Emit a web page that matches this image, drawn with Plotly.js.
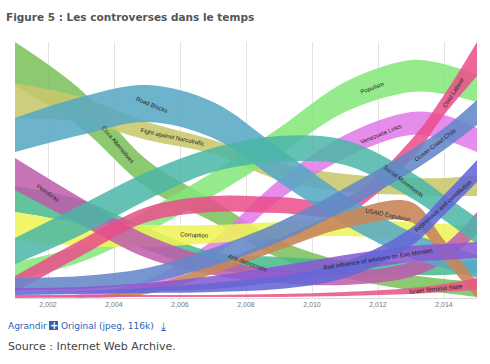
<!DOCTYPE html>
<html><head><meta charset="utf-8">
<script src="https://cdn.plot.ly/plotly-3.0.1.min.js"></script>
<style>html,body{margin:0;padding:0;background:#fff;} #chart{width:490px;height:364px;}</style>
</head><body><div id="chart"></div>
<script>
// Years sampled along the time axis
const years = [2001, 2003, 2005, 2007, 2009, 2011, 2013, 2014, 2015];

// Upper / lower edge of each controversy stream (arbitrary intensity units)
const cocaTop = [256, 208, 138, 98, 58, 36, 23, 19, 16];
const cocaBot = [213, 170, 110, 76, 40, 20, 8, 5, 1];
const narcoTop = [215, 201, 176, 158, 135, 124, 120, 120, 123];
const narcoBot = [180, 176, 158, 144, 118, 106, 103, 102, 102];
const populismTop = [36, 53, 88, 126, 170, 216, 238, 234, 223];
const populismBot = [18, 36, 66, 102, 143, 186, 206, 204, 196];
const venezuelaTop = [1, 4, 18, 58, 118, 163, 186, 183, 170];
const venezuelaBot = [0, 1, 8, 40, 98, 140, 163, 158, 146];
const antiDemTop = [112, 98, 70, 46, 41, 38, 36, 36, 38];
const antiDemBot = [86, 73, 48, 28, 26, 24, 23, 23, 25];
const corruptionTop = [86, 76, 73, 73, 76, 78, 76, 74, 72];
const corruptionBot = [58, 52, 51, 55, 60, 62, 58, 56, 54];
const petrobrasTop = [140, 100, 63, 40, 28, 26, 36, 53, 86];
const petrobrasBot = [108, 73, 40, 23, 15, 13, 21, 36, 64];
const childTop = [22, 58, 91, 102, 101, 100, 158, 203, 256];
const childBot = [6, 42, 76, 86, 85, 84, 138, 183, 222];
const roadTop = [180, 201, 213, 196, 150, 103, 66, 53, 43];
const roadBot = [146, 163, 176, 160, 116, 73, 40, 30, 20];
const socialTop = [60, 93, 126, 150, 162, 158, 126, 103, 80];
const socialBot = [34, 63, 98, 126, 136, 133, 100, 78, 54];
const usaidTop = [1, 1, 11, 34, 60, 86, 96, 58, 16];
const usaidBot = [0, 0, 4, 24, 48, 70, 76, 38, 0];
const oceanTop = [20, 22, 30, 50, 76, 110, 148, 170, 198];
const oceanBot = [8, 9, 15, 32, 56, 88, 126, 148, 173];
const badInfTop = [10, 11, 15, 22, 32, 43, 52, 54, 56];
const badInfBot = [6, 6, 7, 9, 16, 26, 36, 38, 40];
const repressTop = [6, 7, 10, 15, 22, 36, 70, 103, 138];
const repressBot = [3, 4, 5, 6, 9, 20, 52, 83, 116];
const israelTop = [3, 3, 3, 3, 4, 6, 10, 14, 20];
const israelBot = [1, 1, 1, 1, 1, 2, 4, 6, 8];

const names = ["Coca Alternatives", "Fight against Narcotrafic", "Populism", "Venezuela Links",
  "Anti democratic", "Corruption", "Petrobras", "Child Labour", "Road Blocks", "Social Movements",
  "USAID Expulsion", "Ocean Coast Chile", "Bad influence of advisors on Evo Morales",
  "Repression and constitution", "Israel Terrorist State"];
const tops = [cocaTop, narcoTop, populismTop, venezuelaTop, antiDemTop, corruptionTop, petrobrasTop,
  childTop, roadTop, socialTop, usaidTop, oceanTop, badInfTop, repressTop, israelTop];
const bots = [cocaBot, narcoBot, populismBot, venezuelaBot, antiDemBot, corruptionBot, petrobrasBot,
  childBot, roadBot, socialBot, usaidBot, oceanBot, badInfBot, repressBot, israelBot];

// styling
const colors = ["rgba(120,192,88,0.85)", "rgba(200,198,108,0.88)", "rgba(130,232,120,0.85)",
  "rgba(226,120,234,0.85)", "rgba(72,184,136,0.85)", "rgba(238,244,88,0.88)", "rgba(190,90,172,0.85)",
  "rgba(234,76,138,0.85)", "rgba(88,168,196,0.88)", "rgba(74,182,166,0.85)", "rgba(200,134,90,0.9)",
  "rgba(100,136,200,0.88)", "rgba(138,90,210,0.88)", "rgba(100,104,214,0.88)", "rgba(230,88,138,0.88)"];
const labelYear = [2004.12, 2005.76, 2011.82, 2012.09, 2008.06, 2006.42, 2002.0, 2014.27, 2005.15,
  2012.76, 2012.3, 2013.73, 2012.0, 2013.97, 2013.76];
const labelAngle = [50, 12, -20, -22, 20, 3, 35, -58, 22, 38, 12, -37, -9, -42, -6];

function interp(arr, yr) {
  for (let i = 0; i < years.length - 1; i++) {
    if (yr >= years[i] && yr <= years[i + 1]) {
      const t = (yr - years[i]) / (years[i + 1] - years[i]);
      return arr[i] + t * (arr[i + 1] - arr[i]);
    }
  }
  return arr[arr.length - 1];
}

const traces = [];
const annotations = [];
names.forEach((n, i) => {
  traces.push({x: years, y: bots[i], mode: 'lines', line: {width: 0, shape: 'spline', smoothing: 1},
    hoverinfo: 'skip', showlegend: false});
  traces.push({x: years, y: tops[i], mode: 'lines', fill: 'tonexty', fillcolor: colors[i],
    line: {width: 0, shape: 'spline', smoothing: 1}, name: n, showlegend: false});
  const c = (interp(tops[i], labelYear[i]) + interp(bots[i], labelYear[i])) / 2;
  annotations.push({x: labelYear[i], y: c, xref: 'x', yref: 'y', text: n, showarrow: false,
    textangle: labelAngle[i], font: {family: 'Liberation Sans, Arial', size: 6, color: '#222'}});
});

const linkFont = {family: 'DejaVu Sans', size: 9, color: '#2a62b5'};
annotations.push({xref: 'paper', yref: 'paper', x: -9/462, y: -28/256, xanchor: 'left', yanchor: 'middle',
  text: 'Agrandir', showarrow: false, font: linkFont});
annotations.push({xref: 'paper', yref: 'paper', x: 44/462, y: -28/256, xanchor: 'left', yanchor: 'middle',
  text: 'Original (jpeg, 116k)', showarrow: false, font: linkFont});
annotations.push({xref: 'paper', yref: 'paper', x: 38.5/462, y: -27.5/256, xanchor: 'center', yanchor: 'middle',
  text: '<b>+</b>', showarrow: false, font: {family: 'DejaVu Sans', size: 10, color: '#fff'}});
annotations.push({xref: 'paper', yref: 'paper', x: 148/462, y: -28/256, xanchor: 'center', yanchor: 'middle',
  text: '⤓', showarrow: false, font: {family: 'DejaVu Sans', size: 11, color: '#2a62b5'}});
annotations.push({xref: 'paper', yref: 'paper', x: -9/462, y: -48/256, xanchor: 'left', yanchor: 'middle',
  text: 'Source : Internet Web Archive.', showarrow: false, font: {family: 'DejaVu Sans', size: 11, color: '#444'}});

const layout = {
  width: 490, height: 364,
  margin: {l: 15, r: 13, t: 42, b: 66},
  paper_bgcolor: '#fff', plot_bgcolor: '#fff',
  title: {text: '<b>Figure 5 : Les controverses dans le temps</b>', xref: 'container', yref: 'container',
    x: 6/490, xanchor: 'left', y: 1 - 17/364, yanchor: 'middle',
    font: {family: 'DejaVu Sans', size: 10.5, color: '#555'}},
  xaxis: {range: [2001, 2015], tickvals: [2002, 2004, 2006, 2008, 2010, 2012, 2014], tickformat: ',d',
    showgrid: true, gridcolor: '#e4e4e4', gridwidth: 1, zeroline: false, showline: true, linecolor: '#dcdcdc',
    ticks: '', tickfont: {family: 'Liberation Sans, Arial', size: 7, color: '#777'}, fixedrange: true},
  yaxis: {range: [0, 256], showgrid: false, zeroline: false, showticklabels: false, ticks: '', fixedrange: true},
  shapes: [{type: 'rect', xref: 'paper', yref: 'paper', x0: 34/462, x1: 43/462, y0: -23/256, y1: -32/256,
    fillcolor: '#2a62b5', line: {width: 0}}],
  annotations: annotations,
  showlegend: false
};
Plotly.newPlot('chart', traces, layout, {displayModeBar: false, staticPlot: true});
</script></body></html>
